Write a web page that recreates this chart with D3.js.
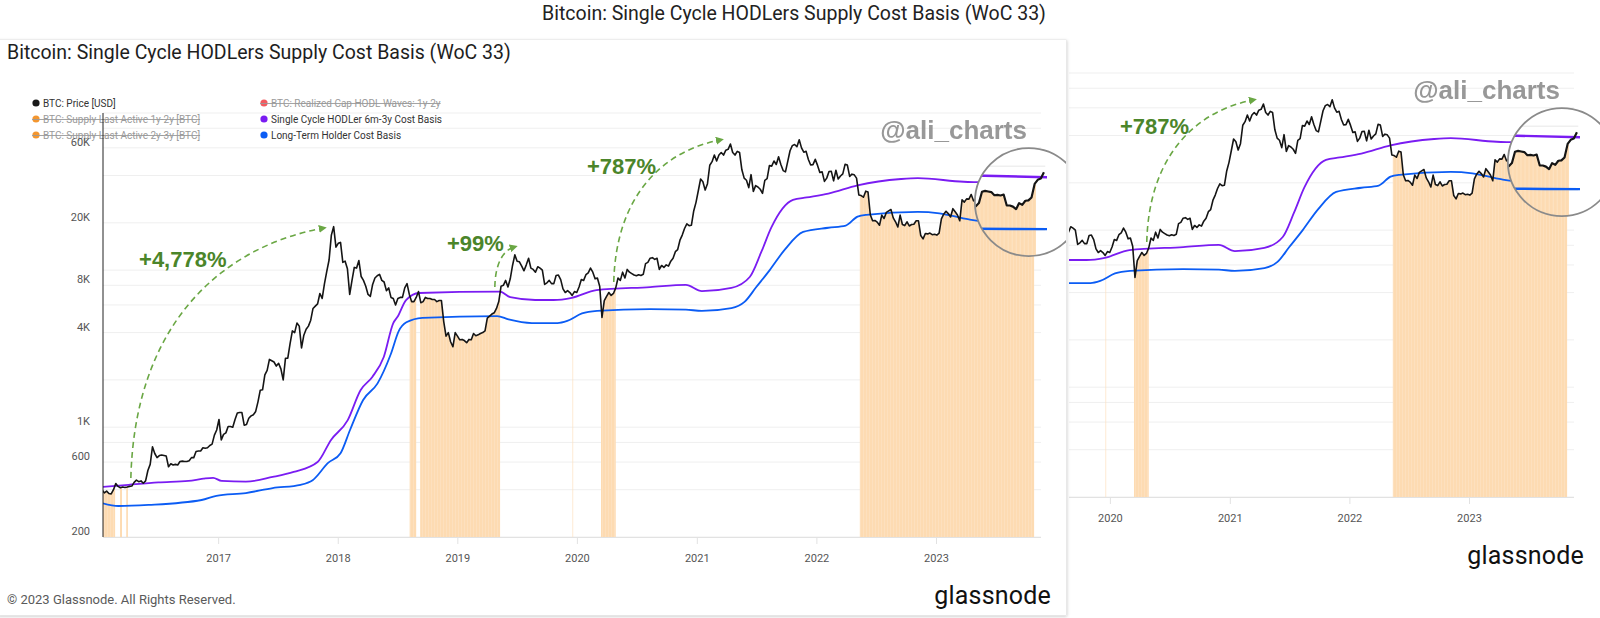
<!DOCTYPE html>
<html><head><meta charset="utf-8">
<script src="https://cdn.jsdelivr.net/npm/d3@7"></script>
<style>html,body{margin:0;padding:0;background:#fff;} svg{display:block;}</style>
</head><body>
<svg id="c" width="1600" height="618"></svg>
<script>
// ---------------- DATA ----------------
const pageTitle = "Bitcoin: Single Cycle HODLers Supply Cost Basis (WoC 33)";
const legendLabels = ["BTC: Price [USD]","BTC: Supply Last Active 1y-2y [BTC]","BTC: Supply Last Active 2y-3y [BTC]","BTC: Realized Cap HODL Waves: 1y-2y","Single Cycle HODLer 6m-3y Cost Basis","Long-Term Holder Cost Basis"];
const legendColors = ["#1a1a1a","#f3962f","#f3962f","#f25a5f","#7a1cf2","#0b5cf4"];
const legendDisabled = [false,true,true,true,false,false];

const yGridValues = [200,400,600,800,1000,2000,4000,6000,8000,10000,20000,40000,60000,80000,100000];
const yTickLabels = [200,600,1000,4000,8000,20000,60000];
const xTickYears = [2017,2018,2019,2020,2021,2022,2023];

// weekly BTC price (USD), each year starts at the given Monday
const priceStarts = ["2016-01-11","2017-01-02","2018-01-01","2019-01-07","2020-01-06","2021-01-04","2022-01-03","2023-01-02"];
const price2016 = [400,382,392,378,376,400,438,420,412,416,413,416,420,422,445,460,450,455,440,455,530,580,750,680,640,660,665,660,655,560,585,575,580,575,605,608,605,605,612,640,640,700,705,705,740,735,740,765,780,890,960];
const price2017 = [1120,830,900,920,1010,1010,1000,1120,1230,1240,1240,1030,1040,1140,1180,1200,1260,1450,1720,1730,2150,2300,2700,2650,2600,2450,2550,2350,2000,2750,2750,3400,4100,4000,4600,4400,3200,3850,4200,4400,4800,5700,5900,6100,7100,6600,8200,9800,11600,16700,18900,14000];
const price2018 = [14800,15000,11200,11400,10200,7000,8600,10400,10300,11500,9100,8600,7900,7000,6800,8100,8900,9200,9400,8600,8400,7400,7700,6700,6600,6000,6600,6700,6700,7700,8200,7000,6300,6300,6700,7300,6200,6300,6700,6600,6600,6500,6500,6300,6400,6400,4700,3800,4000,3500,3250,4000,3800];
const price2019 = [3600,3620,3560,3450,3620,3600,3950,3820,3870,3950,4000,4100,4950,5100,5250,5350,5700,6300,7900,8000,8600,7800,8800,10700,12500,11400,11300,10600,9900,10800,11900,10300,10100,9700,10500,10300,10000,8100,8300,8600,8200,8200,9250,9300,8700,7600,7200,7400,7200,6900,7300,7200];
const price2020 = [7800,8700,8600,9350,9600,10300,9700,8800,8900,7900,5000,6400,6800,7200,6900,7100,7700,8900,8600,9700,8900,10100,9700,9500,9300,9200,9350,9250,9400,11000,11200,11900,12000,11700,11900,10100,10700,10400,10800,10600,11400,11900,13100,13500,15500,16700,18400,19700,19200,19300,23800,27000];
const price2021 = [32000,38000,36500,32300,35500,46500,49000,54000,49500,54000,56000,54000,58000,58700,63500,56000,54000,57000,56000,43500,38500,37300,33500,40500,31700,34500,33800,32700,30800,37300,38200,46300,45900,49500,47000,52600,47000,43000,42200,49200,57500,62000,63000,61000,67500,60000,56300,57000,50600,46700,46900,50700];
const price2022 = [46400,41800,42200,36700,38500,42400,42500,37000,43200,38000,39700,41000,47100,46600,39500,40800,40400,38500,30100,29800,29100,31800,31400,22500,20600,20700,20200,19300,22400,21300,23300,23800,24300,21500,20300,18800,22400,19500,19200,20300,19100,19500,19600,20600,20600,16600,15800,17100,17000,17200,16800,16900];
const price2023 = [16700,17200,21200,22700,23700,22900,21800,24600,23500,22400,20600,28000,27100,28400,28300,30300,27600,28000,27700,26900,26800,27700,25700,25900,26800,30300,30600,30400,30200,29200,29300,29100,29400,26100,26100,25800,25100,26800,26300,27500,27600,28500,33000,34500,35000,37500];

// Single Cycle HODLer 6m-3y Cost Basis
const scDates = ["2016-01-10","2016-04-01","2016-07-01","2016-10-01","2016-11-15","2016-12-15","2017-01-10","2017-03-25","2017-06-15","2017-08-18","2017-10-30","2017-12-10","2018-01-30","2018-03-10","2018-04-15","2018-05-20","2018-06-18","2018-07-01","2018-07-27","2018-09-05","2019-05-10","2019-06-10","2019-08-25","2019-10-20","2019-12-15","2020-02-28","2020-08-10","2020-11-27","2021-01-15","2021-04-15","2021-06-10","2021-07-15","2021-08-15","2021-10-20","2021-12-01","2022-02-05","2022-05-05","2022-09-15","2022-11-05","2023-03-25","2023-05-10","2023-11-20"];
const scValues = [416,430,445,455,470,476,455,450,482,519,600,830,1110,1720,2090,2800,4600,5040,6450,7150,7300,6720,6450,6450,6660,7450,7800,8060,7340,7700,9040,13000,18700,28000,29000,30700,34600,38000,38500,36500,36300,35500];

// Long-Term Holder Cost Basis
const lthDates = ["2016-01-10","2016-03-01","2016-06-01","2016-11-10","2016-12-25","2017-03-25","2017-06-15","2017-09-08","2017-10-15","2017-12-01","2018-01-08","2018-02-06","2018-03-18","2018-05-01","2018-06-10","2018-07-05","2018-07-28","2018-09-15","2019-05-01","2019-06-05","2019-08-15","2019-11-01","2019-12-01","2020-01-15","2020-03-01","2020-08-10","2020-11-27","2021-01-15","2021-04-15","2021-05-25","2021-06-30","2021-08-10","2021-09-25","2021-11-20","2022-02-05","2022-03-30","2022-05-05","2022-06-01","2022-11-05","2023-01-10","2023-04-10","2023-06-15","2023-11-20"];
const lthValues = [329,315,320,344,366,381,410,430,460,592,683,960,1490,1900,2900,4100,4650,4970,5100,4850,4600,4600,4750,5300,5500,5650,5600,5500,5730,6270,7800,10000,13500,17500,18600,19200,21900,22500,23500,23000,21000,20300,20200];

// periods shaded (supply last active 1y-3y signal)
const shadeStarts = ["2016-01-10","2016-03-06","2016-03-25","2018-08-07","2018-09-08","2019-12-17","2020-03-13","2022-05-12"];
const shadeEnds   = ["2016-02-20","2016-03-12","2016-03-30","2018-08-27","2019-05-10","2019-12-19","2020-04-27","2023-10-26"];

// annotations (data space)
const annTexts = ["+4,778%","+99%","+787%"];
const annTextAt = [["2016-05-03",10500],["2018-11-29",13200],["2020-01-30",40900]];
const annFrom = [["2016-04-08",475],["2019-04-24",7800],["2020-04-21",8400]];
const annTo   = [["2017-11-15",18500],["2019-06-21",14000],["2021-03-11",67300]];
const focusAt = ["2023-10-10",27100];

// ---------------- SETUP ----------------
const parse = d3.utcParse("%Y-%m-%d");
const plot = {l:103, r:1041, t:113, b:537};
const x = d3.scaleUtc().domain([parse("2016-01-14"), parse("2023-11-16")]).range([plot.l, plot.r]);
const y = d3.scaleLog().domain([200,100000]).range([plot.b, plot.t]);
const SHIFT_X = 533, SHIFT_Y = -40, RIGHT_EDGE = 1069;

const priceYears = [price2016,price2017,price2018,price2019,price2020,price2021,price2022,price2023];
const priceData = [];
priceYears.forEach((arr,k)=>{
  const s = parse(priceStarts[k]);
  arr.forEach((v,i)=>priceData.push({date:d3.utcDay.offset(s,7*i), v}));
});
const scData = scDates.map((d,i)=>({date:parse(d), v:scValues[i]}));
const lthData = lthDates.map((d,i)=>({date:parse(d), v:lthValues[i]}));

const bis = d3.bisector(d=>d.date).left;
function priceAt(date){
  const i = bis(priceData, date);
  if(i<=0) return priceData[0].v;
  if(i>=priceData.length) return priceData[priceData.length-1].v;
  const a=priceData[i-1], b=priceData[i];
  const t=(date-a.date)/(b.date-a.date);
  return Math.exp(Math.log(a.v)*(1-t)+Math.log(b.v)*t);
}
const shadeData = shadeStarts.map((s,k)=>{
  const d0=parse(s), d1=parse(shadeEnds[k]);
  const pts=[{date:d0,v:priceAt(d0)}];
  priceData.forEach(p=>{ if(p.date>d0 && p.date<d1) pts.push(p); });
  pts.push({date:d1,v:priceAt(d1)});
  return pts;
});

const svg = d3.select("#c");
const defs = svg.append("defs");
const pat = defs.append("pattern").attr("id","stripe").attr("patternUnits","userSpaceOnUse").attr("width",3).attr("height",10);
pat.append("rect").attr("width",3).attr("height",10).attr("fill","#fddbb2");
pat.append("rect").attr("x",2.2).attr("width",0.6).attr("height",10).attr("fill","#fde4c6");
defs.append("clipPath").attr("id","plotClip").append("rect").attr("x",plot.l).attr("y",plot.t-15).attr("width",plot.r-plot.l+2).attr("height",plot.b-plot.t+15);
defs.append("clipPath").attr("id","leftClip").append("rect").attr("x",0).attr("y",40).attr("width",1066).attr("height",575);
defs.append("clipPath").attr("id","rightClip").append("rect").attr("x",RIGHT_EDGE).attr("y",0).attr("width",1600-RIGHT_EDGE).attr("height",618);
const fx = x(parse(focusAt[0])), fy = y(focusAt[1]), fr = 54, fmag = 1.35;
defs.append("clipPath").attr("id","magClip").append("circle").attr("cx",fx).attr("cy",fy).attr("r",fr);
const mk = defs.append("marker").attr("id","arr").attr("viewBox","0 0 10 10").attr("refX",5).attr("refY",5)
  .attr("markerWidth",5).attr("markerHeight",5).attr("orient","auto-start-reverse").attr("markerUnits","strokeWidth");
mk.append("path").attr("d","M0,0 L10,5 L0,10 z").attr("fill","#6aa744");
const sh = defs.append("filter").attr("id","shadow").attr("x","-5%").attr("y","-5%").attr("width","110%").attr("height","110%");
sh.append("feDropShadow").attr("dx",0.5).attr("dy",1).attr("stdDeviation",1.5).attr("flood-color","#000").attr("flood-opacity",0.22);

const lineGen = d3.line().x(d=>x(d.date)).y(d=>y(d.v));
const smoothGen = d3.line().x(d=>x(d.date)).y(d=>y(d.v)).curve(d3.curveMonotoneX);
const areaGen = d3.area().x(d=>x(d.date)).y0(plot.b).y1(d=>y(d.v));

function drawPlot(g){
  g.selectAll("line.grid").data(yGridValues).join("line").attr("class","grid")
    .attr("x1",plot.l).attr("x2",plot.r).attr("y1",d=>y(d)).attr("y2",d=>y(d))
    .attr("stroke","#efefef").attr("stroke-width",1);
  const pg = g.append("g").attr("clip-path","url(#plotClip)");
  pg.selectAll("path.shade").data(shadeData).join("path").attr("class","shade")
    .attr("d",areaGen).attr("fill","url(#stripe)");
  pg.append("path").datum(lthData).attr("d",smoothGen).attr("fill","none").attr("stroke","#0b5cf4").attr("stroke-width",1.8);
  pg.append("path").datum(scData).attr("d",smoothGen).attr("fill","none").attr("stroke","#7a1cf2").attr("stroke-width",1.8);
  pg.append("path").datum(priceData).attr("d",lineGen).attr("fill","none").attr("stroke","#151515").attr("stroke-width",1.6).attr("stroke-linejoin","round");
}

// isRight: copy of the card shown shifted in the right panel; texts that fall outside it are skipped
function drawCard(g, isRight){
  const visible = px => !isRight || px + SHIFT_X > RIGHT_EDGE - 5;
  g.append("rect").attr("x",0).attr("y",40).attr("width",1066).attr("height",575).attr("fill","#fff");
  if(!isRight){
    g.append("text").attr("x",7).attr("y",59).text(pageTitle)
      .attr("font-family","Roboto, 'Open Sans', sans-serif").attr("font-size",19.5).attr("fill","#1e1e1e");
  }
  drawPlot(g);
  if(!isRight){
    // legend
    legendLabels.forEach((lab,i)=>{
      const col = i<3?0:1, row=i%3;
      const cx = 36+col*228, cy = 103+row*16;
      g.append("circle").attr("cx",cx).attr("cy",cy).attr("r",3.6).attr("fill",legendColors[i]);
      const t = g.append("text").attr("x",cx+7).attr("y",cy+3.5).text(lab)
        .attr("font-family","Roboto, sans-serif").attr("font-size",10)
        .attr("fill",legendDisabled[i]?"#9a9a9a":"#333");
      if(legendDisabled[i]){
        const len = t.node().getComputedTextLength();
        g.append("line").attr("x1",cx-4).attr("x2",cx+7+len).attr("y1",cy+0.5).attr("y2",cy+0.5)
          .attr("stroke","#9a9a9a").attr("stroke-width",0.9);
      }
    });
    // y labels
    g.selectAll("text.yl").data(yTickLabels).join("text").attr("class","yl")
      .attr("x",90).attr("y",d=>y(d)-2).attr("text-anchor","end")
      .attr("font-family","Roboto, sans-serif").attr("font-size",11).attr("fill","#555")
      .text(d=>d>=1000?(d/1000)+"K":d);
    g.append("line").attr("x1",plot.l).attr("x2",plot.l).attr("y1",plot.t).attr("y2",plot.b).attr("stroke","#222").attr("stroke-width",1);
  }
  // x axis
  g.append("line").attr("x1",plot.l).attr("x2",plot.r).attr("y1",plot.b+0.5).attr("y2",plot.b+0.5).attr("stroke","#e2e2e2");
  const yrs = xTickYears.map(yv=>new Date(Date.UTC(yv,0,1))).filter(d=>visible(x(d)-15));
  g.selectAll("line.xt").data(yrs).join("line").attr("class","xt")
    .attr("x1",d=>x(d)).attr("x2",d=>x(d)).attr("y1",plot.b).attr("y2",plot.b+7).attr("stroke","#e2e2e2");
  g.selectAll("text.xl").data(yrs).join("text").attr("class","xl")
    .attr("x",d=>x(d)).attr("y",plot.b+25).attr("text-anchor","middle")
    .attr("font-family","Roboto, sans-serif").attr("font-size",11).attr("fill","#555")
    .text(d=>d.getUTCFullYear());
  // annotations
  annTexts.forEach((txt,i)=>{
    const x0=x(parse(annFrom[i][0])), y0=y(annFrom[i][1]);
    const x1=x(parse(annTo[i][0])), y1=y(annTo[i][1]);
    if(!visible(x1)) return;
    const dx=x1-x0, dy=y1-y0;
    const p = d3.path();
    p.moveTo(x0,y0);
    p.bezierCurveTo(x0+0.02*dx, y0+0.6*dy, x0+0.45*dx, y0+0.92*dy, x1, y1);
    g.append("path").attr("d",p.toString()).attr("fill","none").attr("stroke","#6aa744")
      .attr("stroke-width",1.6).attr("stroke-dasharray","6,4").attr("marker-end","url(#arr)");
    g.append("text").attr("x",x(parse(annTextAt[i][0]))).attr("y",y(annTextAt[i][1])).text(txt)
      .attr("font-family","'Liberation Sans', Arial, sans-serif").attr("font-weight","bold")
      .attr("font-size",22).attr("fill","#4b852a");
  });
  // watermark
  g.append("text").attr("x",plot.r-14).attr("y",139).attr("text-anchor","end").text("@ali_charts")
    .attr("font-family","'Liberation Sans', Arial, sans-serif").attr("font-weight","bold")
    .attr("font-size",26).attr("fill","#8d8d8d").attr("opacity",0.9);
  // magnifier
  const mg = g.append("g").attr("clip-path","url(#magClip)");
  mg.append("circle").attr("cx",fx).attr("cy",fy).attr("r",fr).attr("fill","#fff");
  const inner = mg.append("g").attr("transform",`translate(${fx},${fy}) scale(${fmag}) translate(${-fx},${-fy})`);
  drawPlot(inner);
  g.append("circle").attr("cx",fx).attr("cy",fy).attr("r",fr).attr("fill","none").attr("stroke","#8a8a8a").attr("stroke-width",1.8);
  // footer
  if(!isRight){
    g.append("text").attr("x",7).attr("y",604).text("© 2023 Glassnode. All Rights Reserved.")
      .attr("font-family","Roboto, sans-serif").attr("font-size",13).attr("fill","#5a5a5a");
  }
  g.append("text").attr("x",1051).attr("y",604).attr("text-anchor","end").text("glassnode")
    .attr("font-family","Roboto, sans-serif").attr("font-size",25).attr("fill","#111").attr("letter-spacing",0.2);
}

// page title
svg.append("text").attr("x",794).attr("y",20).attr("text-anchor","middle").text(pageTitle)
  .attr("font-family","Roboto, sans-serif").attr("font-size",19.5).attr("fill","#222");

// right panel (same chart, offset)
const right = svg.append("g").attr("clip-path","url(#rightClip)").append("g").attr("transform",`translate(${SHIFT_X},${SHIFT_Y})`);
drawCard(right, true);

// left card
svg.append("rect").attr("x",-2).attr("y",40).attr("width",1068).attr("height",575).attr("fill","#fff").attr("stroke","#e4e4e4").attr("filter","url(#shadow)");
const left = svg.append("g").attr("clip-path","url(#leftClip)");
drawCard(left, false);
</script></body></html>
